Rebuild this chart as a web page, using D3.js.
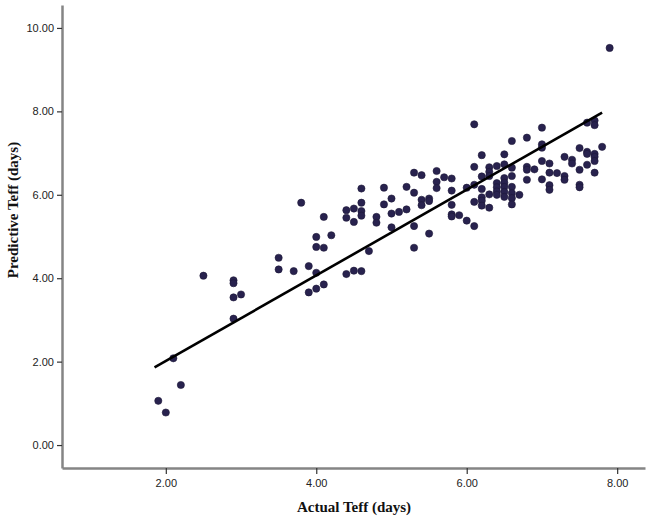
<!DOCTYPE html>
<html>
<head>
<meta charset="utf-8">
<script src="https://cdn.jsdelivr.net/npm/d3@7"></script>
<style>
  html, body { margin: 0; padding: 0; background: #fff; }
  svg { display: block; }
</style>
</head>
<body>
<svg id="chart" width="650" height="520"></svg>
<script>
// ---- data ----
const xLabel = "Actual Teff (days)";
const yLabel = "Predictive Teff (days)";
const xTicks = [2, 4, 6, 8];
const yTicks = [0, 2, 4, 6, 8, 10];
const xDomain = [0.62, 8.37];
const yDomain = [-0.55, 10.55];

// actual Teff (x) and predicted Teff (y) for each case
const actual = [
  1.9, 2.0, 2.1, 2.2, 2.5,
  2.9, 2.9, 2.9, 2.9, 3.0,
  3.5, 3.5, 3.7, 3.8, 3.9, 3.9,
  4.0, 4.0, 4.0, 4.0, 4.1, 4.1, 4.1, 4.2,
  4.4, 4.4, 4.4, 4.5, 4.5, 4.5,
  4.6, 4.6, 4.6, 4.6, 4.6, 4.7, 4.8, 4.8, 4.9, 4.9,
  5.0, 5.0, 5.0, 5.1, 5.2, 5.2,
  5.3, 5.3, 5.3, 5.3, 5.4, 5.4, 5.4, 5.5, 5.5, 5.5,
  5.6, 5.6, 5.6, 5.7, 5.8, 5.8, 5.8, 5.8, 5.8, 5.9, 6.0, 6.0,
  6.1, 6.1, 6.1, 6.1, 6.1,
  6.2, 6.2, 6.2, 6.2, 6.2, 6.2,
  6.3, 6.3, 6.3, 6.3, 6.3,
  6.4, 6.4, 6.4, 6.4, 6.4,
  6.5, 6.5, 6.5, 6.5, 6.5, 6.5, 6.5,
  6.6, 6.6, 6.6, 6.6, 6.6, 6.6, 6.6,
  6.7, 6.8, 6.8, 6.8, 6.8, 6.9,
  7.0, 7.0, 7.0, 7.0, 7.0,
  7.1, 7.1, 7.1, 7.1, 7.2, 7.3, 7.3, 7.3, 7.4, 7.4,
  7.5, 7.5, 7.5, 7.5, 7.6, 7.6, 7.6, 7.6,
  7.7, 7.7, 7.7, 7.7, 7.7, 7.7, 7.8, 7.9
];
const predicted = [
  1.06, 0.78, 2.08, 1.44, 4.06,
  3.95, 3.88, 3.54, 3.03, 3.61,
  4.49, 4.21, 4.17, 5.81, 4.29, 3.66,
  4.99, 4.75, 4.13, 3.75, 5.47, 4.73, 3.85, 5.03,
  5.63, 5.45, 4.10, 5.67, 5.35, 4.18,
  6.15, 5.81, 5.61, 5.50, 4.17, 4.65, 5.47, 5.33, 6.17, 5.77,
  5.91, 5.55, 5.22, 5.59, 6.19, 5.65,
  6.53, 6.05, 5.25, 4.73, 6.47, 5.88, 5.75, 5.91, 5.85, 5.07,
  6.57, 6.31, 6.16, 6.42, 6.39, 6.10, 5.76, 5.53, 5.48, 5.51, 6.17, 5.38,
  7.69, 6.67, 6.24, 5.83, 5.25,
  6.95, 6.44, 6.14, 5.94, 5.86, 5.74,
  6.66, 6.55, 6.45, 6.01, 5.69,
  6.69, 6.28, 6.18, 6.08, 6.00,
  6.97, 6.73, 6.40, 6.29, 6.19, 6.07, 5.95,
  7.29, 6.65, 6.45, 6.19, 6.04, 5.92, 5.77,
  6.00, 7.37, 6.67, 6.60, 6.36, 6.61,
  7.61, 7.21, 7.13, 6.81, 6.37,
  6.75, 6.53, 6.23, 6.12, 6.52, 6.91, 6.45, 6.36, 6.84, 6.75,
  7.12, 6.60, 6.24, 6.18, 7.73, 7.03, 6.98, 6.72,
  7.78, 7.67, 6.98, 6.91, 6.81, 6.53, 7.15, 9.52
];
// fitted regression line end points
const fitX = [1.85, 7.80];
const fitY = [1.86, 7.97];

// ---- drawing ----
const svg = d3.select("#chart");
const x = d3.scaleLinear().domain(xDomain).range([62, 645]);
const y = d3.scaleLinear().domain(yDomain).range([468, 5]);

const tickFont = "'Liberation Sans', Arial, sans-serif";
const titleFont = "'Liberation Serif', 'Times New Roman', serif";

// y axis
const yAxis = d3.axisLeft(y).tickValues(yTicks).tickFormat(d3.format(".2f"))
  .tickSizeInner(5).tickSizeOuter(0).tickPadding(3);
const gy = svg.append("g").attr("transform", `translate(${x(xDomain[0])},0)`).call(yAxis);
gy.select(".domain").attr("stroke", "#858585").attr("stroke-width", 2.5);
gy.selectAll(".tick line").attr("stroke", "#333").attr("stroke-width", 1.2);
gy.selectAll(".tick text").attr("font-family", tickFont).attr("font-size", 11).attr("fill", "#222");

// x axis
const xAxis = d3.axisBottom(x).tickValues(xTicks).tickFormat(d3.format(".2f"))
  .tickSizeInner(6).tickSizeOuter(0).tickPadding(5);
const gx = svg.append("g").attr("transform", `translate(0,${y(yDomain[0])})`).call(xAxis);
gx.select(".domain").attr("stroke", "#858585").attr("stroke-width", 2.5);
gx.selectAll(".tick line").attr("stroke", "#333").attr("stroke-width", 1.2);
gx.selectAll(".tick text").attr("font-family", tickFont).attr("font-size", 11).attr("fill", "#222");

// points
const pts = actual.map((a, i) => ({ a, p: predicted[i] }));
svg.append("g").selectAll("circle").data(pts).join("circle")
  .attr("cx", d => x(d.a)).attr("cy", d => y(d.p)).attr("r", 3.6)
  .attr("fill", "#28224e").attr("stroke", "#1c1838").attr("stroke-width", 0.6);

// regression line
svg.append("line")
  .attr("x1", x(fitX[0])).attr("y1", y(fitY[0]))
  .attr("x2", x(fitX[1])).attr("y2", y(fitY[1]))
  .attr("stroke", "#000").attr("stroke-width", 2.6);

// titles
svg.append("text").attr("x", 354).attr("y", 512).attr("text-anchor", "middle")
  .attr("font-family", titleFont).attr("font-weight", "bold").attr("font-size", 15)
  .attr("fill", "#111").text(xLabel);
svg.append("text").attr("transform", "translate(18,210) rotate(-90)").attr("text-anchor", "middle")
  .attr("font-family", titleFont).attr("font-weight", "bold").attr("font-size", 15)
  .attr("fill", "#111").text(yLabel);
</script>
</body>
</html>
